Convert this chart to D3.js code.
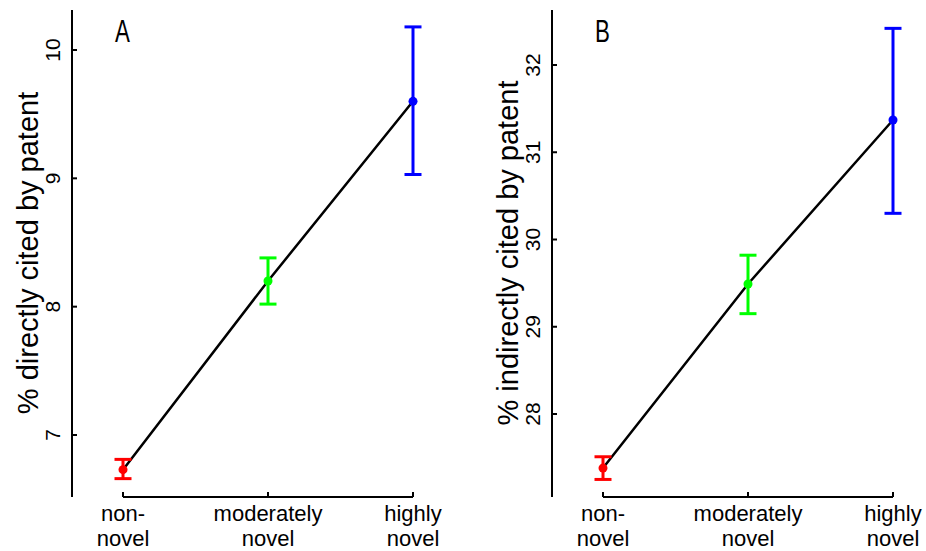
<!DOCTYPE html>
<html>
<head>
<meta charset="utf-8">
<script src="https://cdn.jsdelivr.net/npm/d3@7"></script>
<style>
  body { margin: 0; background: #fff; }
  text { font-family: "Liberation Sans", Arial, sans-serif; fill: #000; }
</style>
</head>
<body>
<div id="chart"></div>
<script>
let width = 926;
let height = 551;

let categories = [["non-", "novel"], ["moderately", "novel"], ["highly", "novel"]];
let colors = ["#ff0000", "#00ff00", "#0000ff"];

// panel A: % directly cited by patent
let directMean = [6.73, 8.20, 9.60];
let directLow = [6.66, 8.02, 9.03];
let directHigh = [6.81, 8.38, 10.18];
let directTicks = [7, 8, 9, 10];

// panel B: % indirectly cited by patent
let indirectMean = [27.38, 29.49, 31.37];
let indirectLow = [27.25, 29.15, 30.30];
let indirectHigh = [27.51, 29.82, 32.42];
let indirectTicks = [28, 29, 30, 31, 32];

let svg = d3.select("#chart")
    .append("svg")
    .attr("width", width)
    .attr("height", height);

function drawPanel(offsetX, letter, label, mean, low, high, ticks, domain, range) {
    let g = svg.append("g").attr("transform", "translate(" + offsetX + ",0)");
    let axisX = 72;
    let bottom = 497;

    let x = d3.scalePoint()
        .domain(d3.range(categories.length))
        .range([123, 413]);
    let y = d3.scaleLinear()
        .domain(domain)
        .range(range);

    // y axis line
    g.append("line")
        .attr("x1", axisX).attr("x2", axisX)
        .attr("y1", 10).attr("y2", bottom)
        .attr("stroke", "#000").attr("stroke-width", 2);

    ticks.forEach(function (t) {
        g.append("line")
            .attr("x1", axisX).attr("x2", axisX + 5)
            .attr("y1", y(t)).attr("y2", y(t))
            .attr("stroke", "#000").attr("stroke-width", 2);
        g.append("text")
            .attr("transform", "translate(" + (axisX - 12) + "," + y(t) + ") rotate(-90)")
            .attr("text-anchor", "middle")
            .attr("font-size", 21)
            .text(t);
    });

    // x axis line
    g.append("line")
        .attr("x1", x(0)).attr("x2", x(2))
        .attr("y1", bottom).attr("y2", bottom)
        .attr("stroke", "#000").attr("stroke-width", 2);

    categories.forEach(function (c, i) {
        g.append("line")
            .attr("x1", x(i)).attr("x2", x(i))
            .attr("y1", bottom).attr("y2", bottom - 5)
            .attr("stroke", "#000").attr("stroke-width", 2);
        c.forEach(function (word, j) {
            g.append("text")
                .attr("x", x(i))
                .attr("y", 521 + j * 25)
                .attr("text-anchor", "middle")
                .attr("font-size", 22)
                .text(word);
        });
    });

    // y label
    g.append("text")
        .attr("transform", "translate(" + (axisX - 34) + "," + 253 + ") rotate(-90)")
        .attr("text-anchor", "middle")
        .attr("font-size", 29)
        .text(label);

    // panel letter, narrow like the original
    g.append("text")
        .attr("transform", "translate(115,42) scale(0.72,1)")
        .attr("font-size", 31)
        .text(letter);

    // connecting line
    g.append("path")
        .attr("d", d3.line()
            .x(function (d, i) { return x(i); })
            .y(function (d) { return y(d); })(mean))
        .attr("fill", "none")
        .attr("stroke", "#000")
        .attr("stroke-width", 2.5);

    // error bars
    mean.forEach(function (m, i) {
        g.append("line")
            .attr("x1", x(i)).attr("x2", x(i))
            .attr("y1", y(low[i])).attr("y2", y(high[i]))
            .attr("stroke", colors[i]).attr("stroke-width", 3);
        [low[i], high[i]].forEach(function (v) {
            g.append("line")
                .attr("x1", x(i) - 8.5).attr("x2", x(i) + 8.5)
                .attr("y1", y(v)).attr("y2", y(v))
                .attr("stroke", colors[i]).attr("stroke-width", 3);
        });
        g.append("circle")
            .attr("cx", x(i))
            .attr("cy", y(m))
            .attr("r", 4.5)
            .attr("fill", colors[i]);
    });
}

drawPanel(0, "A", "% directly cited by patent", directMean, directLow, directHigh, directTicks, [7, 10], [435, 50]);
drawPanel(480, "B", "% indirectly cited by patent", indirectMean, indirectLow, indirectHigh, indirectTicks, [28, 32], [414, 65]);
</script>
</body>
</html>
